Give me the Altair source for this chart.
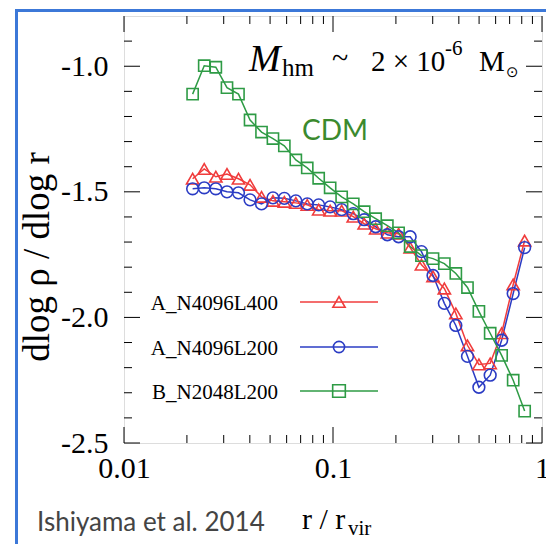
import altair as alt
import pandas as pd

# ---------------- data ----------------
r_over_rvir = [0.0213, 0.0242, 0.0275, 0.0311, 0.0353, 0.0401, 0.0455, 0.0516, 0.0585, 0.0664,
               0.0753, 0.0854, 0.0969, 0.110, 0.125, 0.141, 0.160, 0.182, 0.206, 0.234,
               0.265, 0.301, 0.341, 0.387, 0.440, 0.499, 0.565, 0.641, 0.728, 0.826]
slope_A_N4096L400 = [-1.448, -1.409, -1.440, -1.429, -1.448, -1.472, -1.520, -1.536, -1.540, -1.544,
                     -1.552, -1.571, -1.575, -1.575, -1.599, -1.627, -1.647, -1.663, -1.667, -1.722,
                     -1.790, -1.837, -1.885, -1.984, -2.111, -2.187, -2.183, -2.063, -1.869, -1.694]
slope_A_N4096L200 = [-1.488, -1.484, -1.488, -1.500, -1.504, -1.532, -1.548, -1.524, -1.526, -1.536,
                     -1.548, -1.552, -1.560, -1.571, -1.587, -1.611, -1.639, -1.671, -1.679, -1.679,
                     -1.738, -1.833, -1.944, -2.032, -2.155, -2.278, -2.230, -2.091, -1.905, -1.722]
slope_B_N2048L200 = [-1.111, -0.998, -1.004, -1.085, -1.111, -1.214, -1.262, -1.288, -1.317, -1.373,
                     -1.405, -1.446, -1.484, -1.520, -1.548, -1.579, -1.607, -1.635, -1.663, -1.718,
                     -1.754, -1.766, -1.786, -1.825, -1.881, -1.976, -2.063, -2.151, -2.250, -2.373]
series_names = ["A_N4096L400", "A_N4096L200", "B_N2048L200"]

x_major_ticks = [0.01, 0.1, 1]
x_minor_ticks = [0.02, 0.03, 0.04, 0.05, 0.06, 0.07, 0.08, 0.09,
                 0.2, 0.3, 0.4, 0.5, 0.6, 0.7, 0.8, 0.9]
y_major_ticks = [-2.5, -2.0, -1.5, -1.0]
y_minor_ticks = [-2.4, -2.3, -2.2, -2.1, -1.9, -1.8, -1.7, -1.6,
                 -1.4, -1.3, -1.2, -1.1, -0.9]

# ---------------- styles ----------------
colors = ["#f03c3c", "#2b3cc4", "#2e9b45"]
shapes = ["triangle-up", "circle", "square"]
sizes = [150, 125, 160]
W, H = 418, 427
SERIF = "Liberation Serif"
MAJ, MIN = 16, 8

rows = []
for name, vals in zip(series_names, [slope_A_N4096L400, slope_A_N4096L200, slope_B_N2048L200]):
    for r, s in zip(r_over_rvir, vals):
        rows.append({"r": r, "slope": s, "series": name})
df = pd.DataFrame(rows)

xscale = alt.Scale(type="log", domain=[0.01, 1], nice=False)
yscale = alt.Scale(domain=[-2.5, -0.8], nice=False, zero=False)

x_enc = alt.X("r:Q", scale=xscale,
              axis=alt.Axis(values=x_major_ticks, labelExpr="format(datum.value, '~g')",
                            ticks=False, domain=False, grid=False, title=None,
                            labelFont=SERIF, labelFontSize=30, labelColor="black",
                            labelPadding=10, labelFlush=False, labelOverlap=False))
y_enc = alt.Y("slope:Q", scale=yscale,
              axis=alt.Axis(values=y_major_ticks, labelExpr="'-' + format(abs(datum.value), '.1f')",
                            ticks=False, domain=False, grid=False, title=None,
                            labelFont=SERIF, labelFontSize=30, labelColor="black",
                            labelPadding=16, labelFlush=False, labelOverlap=False))
color_enc = alt.Color("series:N", scale=alt.Scale(domain=series_names, range=colors), legend=None)

lines = alt.Chart(df).mark_line(strokeWidth=1.5).encode(x=x_enc, y=y_enc, color=color_enc)
points = alt.Chart(df).mark_point(filled=False, strokeWidth=1.6, opacity=1).encode(
    x="r:Q", y="slope:Q", color=color_enc,
    shape=alt.Shape("series:N", scale=alt.Scale(domain=series_names, range=shapes), legend=None),
    size=alt.Size("series:N", scale=alt.Scale(domain=series_names, range=sizes), legend=None),
)

# ---------------- inward ticks ----------------
xmaj = pd.DataFrame({"t": x_major_ticks})
xmin = pd.DataFrame({"t": x_minor_ticks})
ymaj = pd.DataFrame({"t": y_major_ticks})
ymin = pd.DataFrame({"t": y_minor_ticks})

def xticks(d, L):
    top = alt.Chart(d).mark_rule(color="black", strokeWidth=1).encode(
        x=alt.X("t:Q", scale=xscale), y=alt.value(0), y2=alt.value(L))
    bot = alt.Chart(d).mark_rule(color="black", strokeWidth=1).encode(
        x=alt.X("t:Q", scale=xscale), y=alt.value(H), y2=alt.value(H - L))
    return [top, bot]

def yticks(d, L):
    left = alt.Chart(d).mark_rule(color="black", strokeWidth=1).encode(
        y=alt.Y("t:Q", scale=yscale), x=alt.value(0), x2=alt.value(L))
    right = alt.Chart(d).mark_rule(color="black", strokeWidth=1).encode(
        y=alt.Y("t:Q", scale=yscale), x=alt.value(W), x2=alt.value(W - L))
    return [left, right]

tick_layers = xticks(xmaj, MAJ) + xticks(xmin, MIN) + yticks(ymaj, MAJ) + yticks(ymin, MIN)

# ---------------- legend (manual) ----------------
one = alt.Data(values=[{}])
legend_layers = []
leg_y = [286, 331, 375]
for name, col, shp, sz, ly in zip(series_names, colors, shapes, sizes, leg_y):
    legend_layers.append(alt.Chart(one).mark_rule(color=col, strokeWidth=1.5).encode(
        x=alt.value(176), x2=alt.value(254), y=alt.value(ly)))
    legend_layers.append(alt.Chart(one).mark_point(shape=shp, size=sz, filled=False, color=col,
                                                   strokeWidth=1.6, opacity=1).encode(
        x=alt.value(215), y=alt.value(ly)))
    legend_layers.append(alt.Chart(one).mark_text(text=name, font=SERIF, fontSize=21, align="right",
                                                  baseline="middle", color="black").encode(
        x=alt.value(154), y=alt.value(ly + 2)))

# ---------------- annotations ----------------
def txt(t, x, y, size, font=SERIF, color="black", style="normal", align="left",
        baseline="alphabetic", angle=0):
    kw = dict(text=t, font=font, fontSize=size, color=color, fontStyle=style, align=align,
              baseline=baseline)
    if angle:
        kw["angle"] = angle
    return alt.Chart(one).mark_text(**kw).encode(x=alt.value(x), y=alt.value(y))

ann = [
    txt("M", 125, 55, 38, style="italic"),
    txt("hm", 158, 60, 25),
    txt("~", 208, 52, 30),
    txt("2 × 10", 247, 55, 29),
    txt("-6", 321, 39, 21),
    txt("M", 355, 55, 29),
    txt("⊙", 382, 61, 15, font="DejaVu Sans"),
    txt("CDM", 178, 124, 28, font="Lato", color="#3b8a2e"),
    txt("dlog ρ / dlog r", -86, 241, 37, align="center", baseline="middle", angle=270),
    txt("r / r", 178, 513, 30),
    txt("vir", 224, 519, 21),
    txt("Ishiyama et al. 2014", -87, 515, 26, font="Lato", color="#444444"),
]

border = alt.Chart(one).mark_rect(fill=None, fillOpacity=0, stroke="#3c78d8", strokeWidth=3).encode(
    x=alt.value(-107.5), x2=alt.value(460), y=alt.value(-5.5), y2=alt.value(560))

chart = alt.layer(
    border, *tick_layers, lines, points, *legend_layers, *ann
).properties(
    width=W, height=H,
    autosize=alt.AutoSizeParams(type="none"),
    padding={"left": 116, "top": 8, "right": 4, "bottom": 101},
).configure_view(stroke="black", strokeWidth=1.2).configure(background="white")

chart.save("out.html", embed_options={"renderer": "svg", "actions": False})
